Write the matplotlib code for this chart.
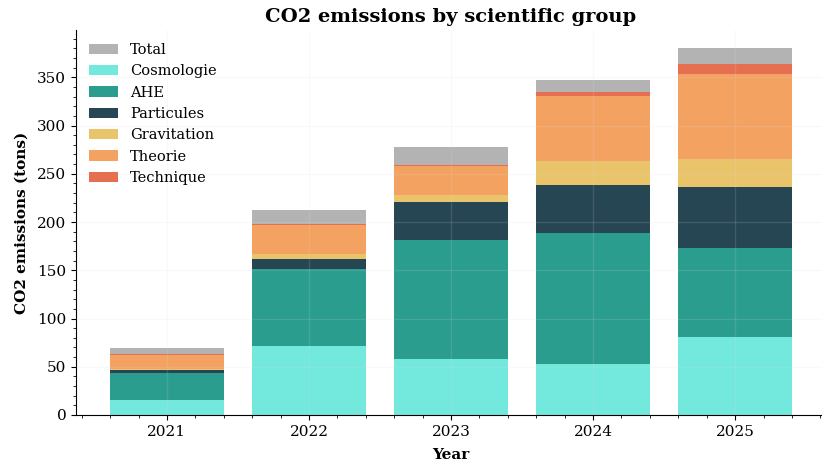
import matplotlib.pyplot as plt
from matplotlib.ticker import AutoMinorLocator
import numpy as np

years = [2021, 2022, 2023, 2024, 2025]
total = [69, 212, 278, 347, 380]
groups = ["Cosmologie", "AHE", "Particules", "Gravitation", "Theorie", "Technique"]
cosmologie = [16, 71, 58, 53, 81]
ahe = [28, 80, 123, 135.5, 92]
particules = [3, 10.5, 39.5, 50, 63.5]
gravitation = [0.3, 5, 8, 25, 29]
theorie = [15, 30.5, 30, 67.5, 87.5]
technique = [0.5, 1, 1, 3.5, 10.5]

colors = ["#73e8dc", "#2a9d8f", "#264653", "#e9c46a", "#f4a261", "#e76f51"]

plt.rcParams['font.family'] = ['DejaVu Serif']

fig = plt.figure(figsize=(8.22, 4.63), dpi=100)
ax = fig.add_axes([76 / 822, 48 / 463, 750 / 822, 385 / 463])

# total in grey behind, groups stacked on top
ax.bar(years, total, width=0.8, color="#b3b3b3", label="Total")
bottom = np.zeros(len(years))
for name, vals, c in zip(groups, [cosmologie, ahe, particules, gravitation, theorie, technique], colors):
    ax.bar(years, vals, width=0.8, bottom=bottom, color=c, label=name)
    bottom += np.array(vals)

ax.set_xticks(years)
ax.xaxis.set_minor_locator(AutoMinorLocator())
ax.yaxis.set_minor_locator(AutoMinorLocator())
ax.tick_params(labelsize=11)
ax.grid(True, color="#dddddd", alpha=0.15, linewidth=1)
ax.set_axisbelow(False)
ax.spines['top'].set_visible(False)
ax.spines['right'].set_visible(False)

ax.set_title("CO2 emissions by scientific group", fontsize=14, fontweight="bold")
ax.set_xlabel("Year", fontsize=11, fontweight="bold", labelpad=7)
ax.set_ylabel("CO2 emissions (tons)", fontsize=11, fontweight="bold", labelpad=6)
ax.legend(loc="upper left", frameon=False, fontsize=10.5)

fig.savefig("out.png", dpi=100)
